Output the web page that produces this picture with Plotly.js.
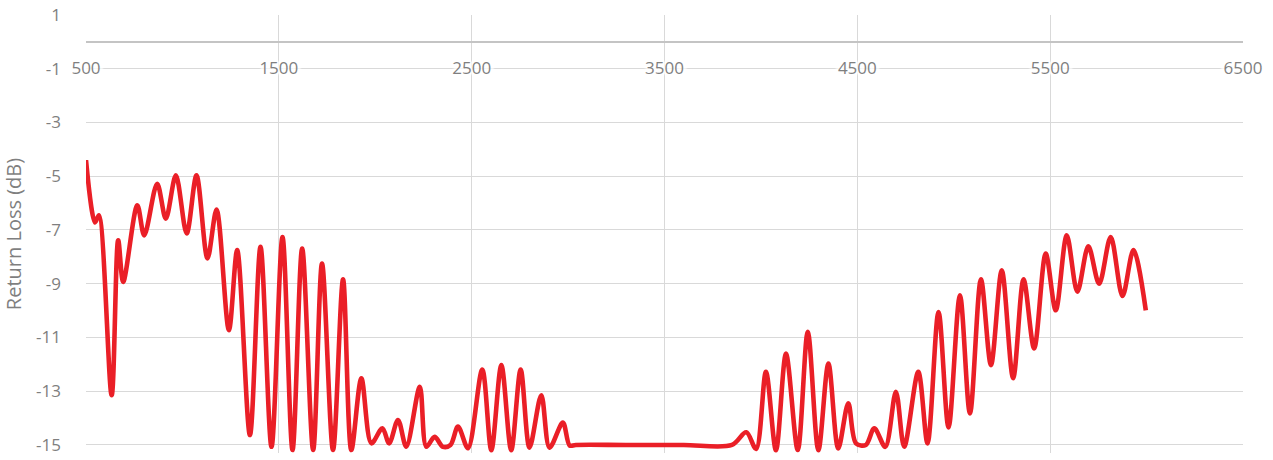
<!DOCTYPE html>
<html>
<head>
<meta charset="utf-8">
<script src="https://cdn.plot.ly/plotly-3.0.1.min.js"></script>
<style>
html,body{margin:0;padding:0;background:#fff;}
#chart{width:1273px;height:460px;}
</style>
</head>
<body>
<div id="chart"></div>
<script>
// Frequency (MHz) and return loss (dB) (turning points)
const freq = [500, 547, 567, 633, 667, 693, 766, 802, 869, 914, 966, 1022, 1073, 1130, 1177, 1241, 1284, 1350, 1405, 1462,
  1519, 1571, 1621, 1678, 1724, 1781, 1833, 1876, 1928, 1980, 2037, 2072, 2118, 2161, 2231, 2265, 2308, 2351, 2390, 2429, 2481,
  2555, 2602, 2654, 2705, 2754, 2800, 2861, 2904, 2973, 3008, 3040, 3300, 3600, 3850, 3924, 3975,
  4026, 4078, 4130, 4191, 4243, 4298, 4350, 4401, 4453, 4493, 4544, 4588, 4645, 4700, 4743, 4816, 4864, 4921, 4973,
  5032, 5084, 5141, 5193, 5249, 5308, 5362, 5417, 5477, 5529, 5586, 5641, 5698, 5754, 5814, 5875, 5932, 5996];
const returnLoss = [-4.4, -6.72, -6.45, -13.15, -7.38, -8.93, -6.08, -7.2, -5.28, -6.58, -4.97, -7.13, -4.97, -8.06, -6.24, -10.73, -7.75, -14.63, -7.63, -15.07,
  -7.26, -15.19, -7.69, -15.19, -8.25, -15.19, -8.84, -15.19, -12.52, -14.94, -14.38, -14.94, -14.07, -15.07, -12.84, -15.07, -14.7, -15.07, -15.0, -14.32, -15.12,
  -12.19, -15.2, -12.03, -15.2, -12.19, -15.1, -13.15, -15.1, -14.17, -15.02, -15.0, -15.0, -15.0, -15.0, -14.53, -15.15,
  -12.28, -15.2, -11.6, -15.19, -10.79, -15.2, -11.97, -15.13, -13.45, -14.94, -15.0, -14.38, -15.07, -13.02, -15.07, -12.28, -14.94, -10.05, -14.35,
  -9.43, -13.83, -8.84, -12.03, -8.5, -12.52, -8.84, -11.41, -7.88, -9.99, -7.2, -9.3, -7.61, -9.0, -7.26, -9.46, -7.75, -9.99];

const xTicks = [500, 1500, 2500, 3500, 4500, 5500, 6500];
const yTicks = [1, -1, -3, -5, -7, -9, -11, -13, -15];

const yMin = -15.3, yMax = 1;
const grey = '#7f7f7f';
const halo = '0 0 3px #fff, 0 0 3px #fff, 0 0 4px #fff, 0 0 4px #fff, 3px 0 2px #fff, -3px 0 2px #fff';

const trace = {
  x: freq,
  y: returnLoss,
  type: 'scatter',
  mode: 'lines',
  line: {color: '#ea1f27', width: 4.6, shape: 'spline', smoothing: 0.9},
  hoverinfo: 'x+y',
  showlegend: false
};

const layout = {
  width: 1273,
  height: 460,
  margin: {l: 86, r: 30, t: 15, b: 7},
  paper_bgcolor: '#ffffff',
  plot_bgcolor: '#ffffff',
  font: {family: 'Open Sans, Noto Sans, sans-serif', color: grey, size: 17},
  xaxis: {
    range: [500, 6500],
    tickvals: xTicks,
    ticktext: xTicks.map(String),
    anchor: 'free',
    position: (0 - yMin) / (yMax - yMin),
    side: 'bottom',
    showgrid: true,
    gridcolor: '#d9d9d9',
    gridwidth: 1,
    zeroline: false,
    showline: true,
    linecolor: '#c4c4c4',
    linewidth: 2,
    ticks: '',
    ticklabelstandoff: 11,
    tickfont: {size: 17, color: grey, shadow: halo}
  },
  yaxis: {
    range: [yMin, yMax],
    tickvals: yTicks,
    ticktext: yTicks.map(String),
    showgrid: true,
    gridcolor: '#d9d9d9',
    gridwidth: 1,
    zeroline: false,
    showline: false,
    ticks: '',
    ticklabelstandoff: 24,
    tickfont: {size: 17, color: grey},
    title: {text: 'Return Loss (dB)', standoff: 12, font: {size: 20, color: grey}}
  }
};

Plotly.newPlot('chart', [trace], layout, {displayModeBar: false, staticPlot: true});
</script>
</body>
</html>
